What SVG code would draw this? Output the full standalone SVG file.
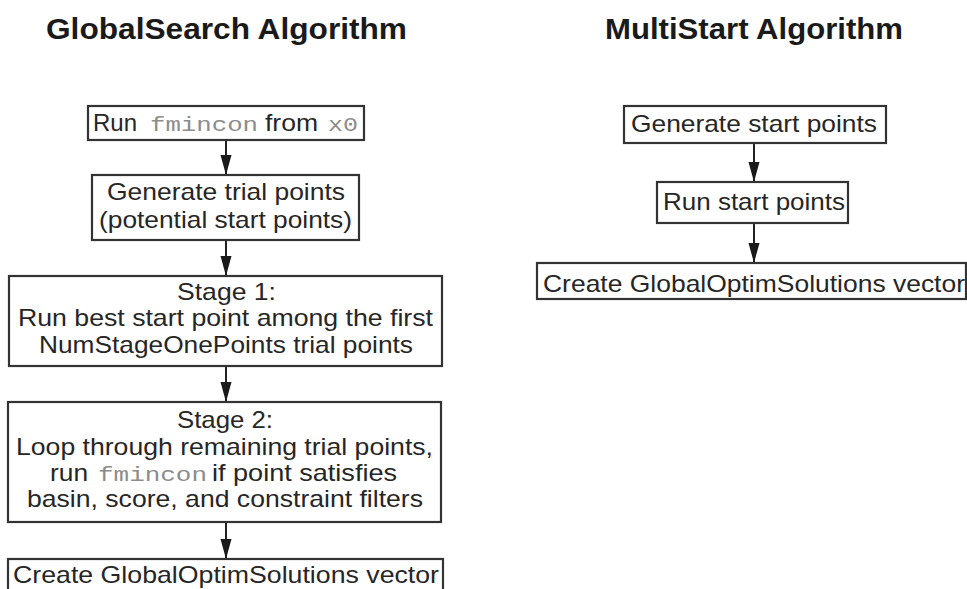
<svg xmlns="http://www.w3.org/2000/svg" width="967" height="589" viewBox="0 0 967 589">
  <defs>
    <style>
      .title { font-family: "Liberation Sans", Arial, sans-serif; font-weight: bold; font-size: 29px; fill: #1a1a1a; text-anchor: middle; }
      .box { fill: #ffffff; stroke: #333333; stroke-width: 2.2; }
      .t { font-family: "Liberation Sans", Arial, sans-serif; font-size: 24px; fill: #262626; text-anchor: middle; }
      .s { font-family: "Liberation Sans", Arial, sans-serif; font-size: 24px; fill: #262626; text-anchor: start; }
      .mono { font-family: "Liberation Mono", "Courier New", monospace; font-size: 21px; fill: #8c8c8c; text-anchor: start; }
      .conn { stroke: #222222; stroke-width: 2; fill: none; }
    </style>
    <marker id="arrow" markerUnits="userSpaceOnUse" markerWidth="20" markerHeight="12" refX="20" refY="6" orient="auto">
      <path d="M0,0.5 L20,6 L0,11.5 z" fill="#1a1a1a"/>
    </marker>
  </defs>
  <rect width="967" height="589" fill="#ffffff"/>

  <text class="title" x="226.5" y="39" textLength="361" lengthAdjust="spacingAndGlyphs">GlobalSearch Algorithm</text>
  <text class="title" x="754" y="39" textLength="298" lengthAdjust="spacingAndGlyphs">MultiStart Algorithm</text>

  <g id="connectors">
    <line class="conn" x1="226" y1="141" x2="226" y2="175" marker-end="url(#arrow)"/>
    <line class="conn" x1="226" y1="241" x2="226" y2="276" marker-end="url(#arrow)"/>
    <line class="conn" x1="226" y1="367" x2="226" y2="402" marker-end="url(#arrow)"/>
    <line class="conn" x1="226" y1="523" x2="226" y2="559" marker-end="url(#arrow)"/>
    <line class="conn" x1="754" y1="144" x2="754" y2="182" marker-end="url(#arrow)"/>
    <line class="conn" x1="754" y1="224" x2="754" y2="263" marker-end="url(#arrow)"/>
  </g>

  <g id="gs-run-fmincon">
    <rect class="box" x="88" y="106" width="276" height="34"/>
    <text class="s" x="93" y="131" textLength="44" lengthAdjust="spacingAndGlyphs">Run</text>
    <text class="mono" x="150" y="131" textLength="108" lengthAdjust="spacingAndGlyphs">fmincon</text>
    <text class="s" x="265" y="131" textLength="53" lengthAdjust="spacingAndGlyphs">from</text>
    <text class="mono" x="328" y="131" textLength="30" lengthAdjust="spacingAndGlyphs">x0</text>
  </g>

  <g id="gs-generate-trial">
    <rect class="box" x="92" y="175" width="267" height="65"/>
    <text class="t" x="226" y="200" textLength="238" lengthAdjust="spacingAndGlyphs">Generate trial points</text>
    <text class="t" x="225.5" y="228" textLength="253" lengthAdjust="spacingAndGlyphs">(potential start points)</text>
  </g>

  <g id="gs-stage1">
    <rect class="box" x="9" y="276" width="433" height="90"/>
    <text class="t" x="226.5" y="300" textLength="99" lengthAdjust="spacingAndGlyphs">Stage 1:</text>
    <text class="t" x="225.5" y="326" textLength="415" lengthAdjust="spacingAndGlyphs">Run best start point among the first</text>
    <text class="t" x="226" y="353" textLength="374" lengthAdjust="spacingAndGlyphs">NumStageOnePoints trial points</text>
  </g>

  <g id="gs-stage2">
    <rect class="box" x="8" y="402" width="433" height="120"/>
    <text class="t" x="225" y="428" textLength="96" lengthAdjust="spacingAndGlyphs">Stage 2:</text>
    <text class="t" x="224.5" y="455" textLength="417" lengthAdjust="spacingAndGlyphs">Loop through remaining trial points,</text>
    <text class="s" x="50" y="481" textLength="38" lengthAdjust="spacingAndGlyphs">run</text>
    <text class="mono" x="98" y="481" textLength="109" lengthAdjust="spacingAndGlyphs">fmincon</text>
    <text class="s" x="212" y="481" textLength="185" lengthAdjust="spacingAndGlyphs">if point satisfies</text>
    <text class="t" x="225" y="507" textLength="396" lengthAdjust="spacingAndGlyphs">basin, score, and constraint filters</text>
  </g>

  <g id="gs-create-vector">
    <rect class="box" x="8" y="559" width="435" height="40"/>
    <text class="t" x="226" y="583" textLength="426" lengthAdjust="spacingAndGlyphs">Create GlobalOptimSolutions vector</text>
  </g>

  <g id="ms-generate-start">
    <rect class="box" x="624" y="106" width="262" height="37"/>
    <text class="t" x="754" y="132" textLength="246" lengthAdjust="spacingAndGlyphs">Generate start points</text>
  </g>

  <g id="ms-run-start">
    <rect class="box" x="657" y="182" width="191" height="41"/>
    <text class="t" x="754" y="210" textLength="182" lengthAdjust="spacingAndGlyphs">Run start points</text>
  </g>

  <g id="ms-create-vector">
    <rect class="box" x="537" y="263" width="429" height="36"/>
    <text class="t" x="754" y="292" textLength="422" lengthAdjust="spacingAndGlyphs">Create GlobalOptimSolutions vector</text>
  </g>
</svg>
